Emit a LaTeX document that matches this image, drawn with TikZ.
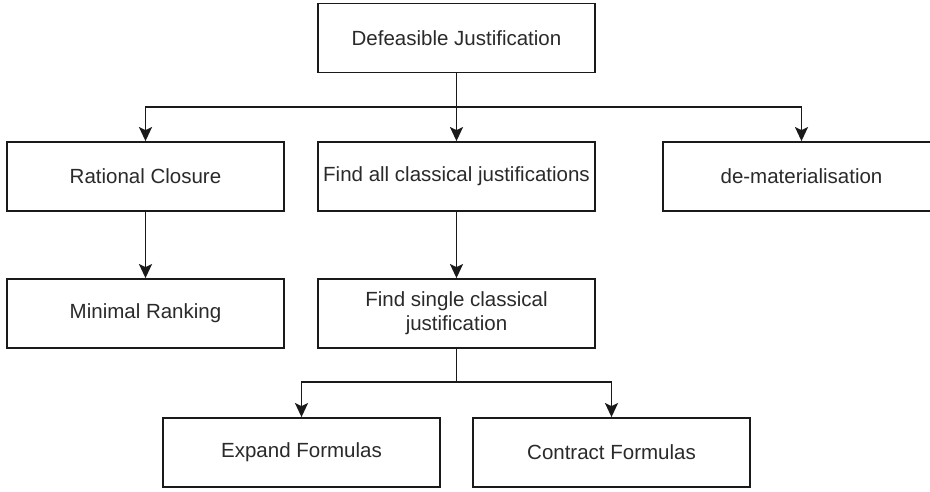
\documentclass[tikz,border=0pt]{standalone}
\usepackage{fontspec}
\setmainfont{Liberation Sans}
\usetikzlibrary{arrows.meta}
\definecolor{linec}{HTML}{1A1A1A}
\definecolor{textc}{HTML}{2A2A2A}
\begin{document}
\begin{tikzpicture}[x=1pt,y=-1pt,
  box/.style={draw=linec, line width=1.8pt, fill=white, minimum width=277pt, minimum height=69pt,
    inner sep=0pt, align=center, text=textc, font=\fontsize{20.5}{24}\selectfont},
  arr/.style={draw=linec, line width=1.8pt, -{Stealth[length=14pt,width=13pt,inset=3pt]}},
  ln/.style={draw=linec, line width=1.8pt}]
\useasboundingbox (0,0) rectangle (930,492);
\clip (0,0) rectangle (930,492);
\node[box] (top) at (456.5,38) {Defeasible Justification};
\node[box] (rc) at (145.5,176.5) {Rational Closure};
\node[box] (fa) at (456.5,176.5) {Find all classical justifications};
\node[box] (dm) at (801.5,176.5) {de-materialisation};
\node[box] (mr) at (145.5,313.5) {Minimal Ranking};
\node[box] (fs) at (456.5,313.5) {Find single classical\\justification};
\node[box] (ef) at (301.5,452.5) {Expand Formulas};
\node[box] (cf) at (611.5,452.5) {Contract Formulas};
\coordinate (bus1) at (456.5,107);
\coordinate (bus2) at (456.5,382);
\draw[ln] (top.south) -- (bus1);
\draw[arr] (bus1) -| (rc.north);
\draw[arr] (bus1) -- (fa.north);
\draw[arr] (bus1) -| (dm.north);
\draw[arr] (rc.south) -- (mr.north);
\draw[arr] (fa.south) -- (fs.north);
\draw[ln] (fs.south) -- (bus2);
\draw[arr] (bus2) -| (ef.north);
\draw[arr] (bus2) -| (cf.north);
\end{tikzpicture}
\end{document}
